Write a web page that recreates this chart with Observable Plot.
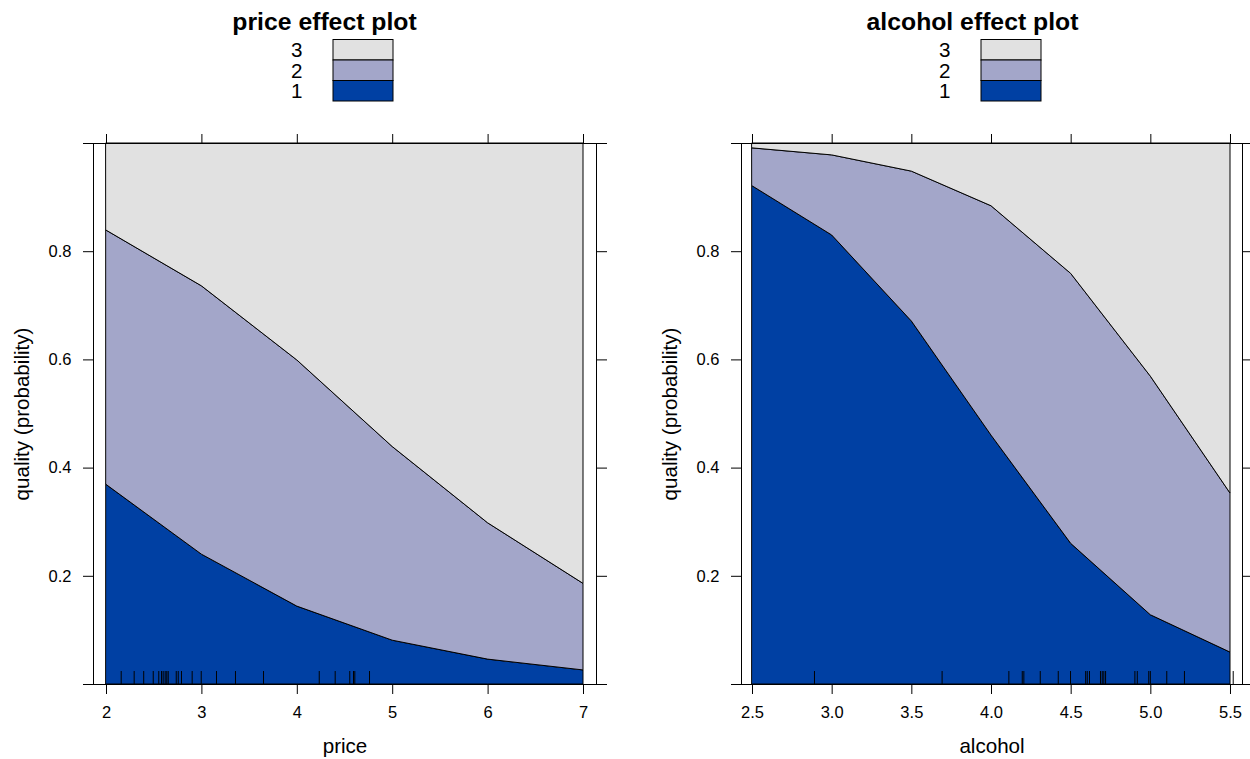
<!DOCTYPE html>
<html><head><meta charset="utf-8">
<script src="https://cdn.jsdelivr.net/npm/d3@7"></script>
<script src="https://cdn.jsdelivr.net/npm/@observablehq/plot@0.6"></script>
<style>
body{margin:0;background:#fff;}
#root{position:relative;width:1250px;height:759px;overflow:hidden;background:#fff;font-family:"Liberation Sans",Arial,sans-serif;}
.panel{position:absolute;top:0;height:759px;}
.panel svg{position:absolute;left:0;}
</style></head><body><div id="root"></div>
<script>
// ---- data ----
const categories = ["1", "2", "3"];
const colors = ["#0040A3", "#A3A6C9", "#E1E1E1"];

const price = [2, 3, 4, 5, 6, 7];
const priceCum1 = [0.369, 0.240, 0.144, 0.081, 0.046, 0.026];
const priceCum2 = [0.839, 0.736, 0.599, 0.439, 0.298, 0.186];
const priceRug = [2.154, 2.29, 2.39, 2.49, 2.548, 2.577, 2.594, 2.615, 2.632, 2.647, 2.731, 2.752, 2.786, 2.898, 2.993, 3.153, 3.352, 3.646, 4.23, 4.397, 4.55, 4.589, 4.603, 4.757];
const priceTicks = [2, 3, 4, 5, 6, 7];

const alcohol = [2.5, 3.0, 3.5, 4.0, 4.5, 5.0, 5.5];
const alcoholCum1 = [0.921, 0.830, 0.671, 0.460, 0.260, 0.128, 0.059];
const alcoholCum2 = [0.991, 0.978, 0.948, 0.884, 0.759, 0.569, 0.353];
const alcoholRug = [2.889, 3.69, 4.109, 4.193, 4.203, 4.306, 4.419, 4.496, 4.591, 4.601, 4.615, 4.684, 4.695, 4.705, 4.716, 4.9, 4.915, 4.987, 4.997, 5.1, 5.211, 5.517];
const alcoholTicks = [2.5, 3.0, 3.5, 4.0, 4.5, 5.0, 5.5];

const yTicks = [0, 0.2, 0.4, 0.6, 0.8, 1];
const yLabel = "quality (probability)";

const FONT = "'Liberation Sans', Arial, Helvetica, sans-serif";
const root = document.getElementById("root");

function makePanel({title, xLabel, xs, c1, c2, rug, xTicks, xFormat, xDomain, left, width, marginRight}) {
  const div = document.createElement("div");
  div.className = "panel";
  div.style.left = left + "px";
  div.style.width = width + "px";
  root.appendChild(div);

  // header: title + legend
  const head = d3.create("svg").attr("width", width).attr("height", 110)
    .style("top", "0px").style("font-family", FONT);
  head.append("text").attr("x", 324.5).attr("y", 30).attr("text-anchor", "middle")
    .attr("font-weight", "bold").attr("font-size", 24.75).attr("fill", "black").text(title);
  const order = categories.map((c, i) => i).reverse();
  order.forEach((ci, row) => {
    const y0 = 39.5 + row * 20.5;
    head.append("rect").attr("x", 333).attr("y", y0).attr("width", 60).attr("height", 20.5)
      .attr("fill", colors[ci]).attr("stroke", "black").attr("stroke-width", 1);
    head.append("text").attr("x", 302.5).attr("y", y0 + 10.25 + 7.6).attr("text-anchor", "end")
      .attr("font-size", 20.6).attr("fill", "black").text(categories[ci]);
  });
  div.appendChild(head.node());

  const rows = xs.map((x, i) => ({x, c1: c1[i], c2: c2[i]}));
  const fmtY = d3.format(".1f");
  const chart = Plot.plot({
    width, height: 649,
    marginLeft: 93, marginRight, marginTop: 33, marginBottom: 75,
    style: {fontFamily: FONT, fontSize: "16.5px", color: "black", background: "transparent", overflow: "visible"},
    x: {domain: xDomain},
    y: {domain: [0, 1]},
    marks: [
      Plot.areaY(rows, {x: "x", y1: 0, y2: "c1", fill: colors[0], stroke: "black", strokeWidth: 1}),
      Plot.areaY(rows, {x: "x", y1: "c1", y2: "c2", fill: colors[1], stroke: "black", strokeWidth: 1}),
      Plot.areaY(rows, {x: "x", y1: "c2", y2: 1, fill: colors[2], stroke: "black", strokeWidth: 1}),
      Plot.ruleX(rug, {x: d => d, y1: 0, y2: 0.024, stroke: "black", strokeWidth: 1}),
      Plot.frame({stroke: "black", strokeWidth: 1}),
      Plot.axisX({anchor: "bottom", ticks: xTicks, tickSize: 10, tickPadding: 12, tickFormat: xFormat, fontSize: 16.5, label: null}),
      Plot.axisX({anchor: "top", ticks: xTicks, tickSize: 10, tickFormat: () => "", label: null}),
      Plot.axisY({anchor: "left", ticks: yTicks, tickSize: 10, tickPadding: 12, tickFormat: d => (d > 0 && d < 1) ? fmtY(d) : "", fontSize: 16.5, label: null}),
      Plot.axisY({anchor: "right", ticks: yTicks, tickSize: 10, tickFormat: () => "", label: null}),
      Plot.text([xLabel], {text: d => d, frameAnchor: "bottom", textAnchor: "middle", lineAnchor: "middle", dy: 62.4, fontSize: 20.6}),
      Plot.text([yLabel], {text: d => d, frameAnchor: "left", textAnchor: "middle", lineAnchor: "middle", dx: -71.5, rotate: -90, fontSize: 20.6})
    ]
  });
  chart.style.top = "110px";
  chart.style.position = "absolute";
  div.appendChild(chart);
}

makePanel({
  title: "price effect plot", xLabel: "price",
  xs: price, c1: priceCum1, c2: priceCum2, rug: priceRug,
  xTicks: priceTicks, xFormat: d3.format("d"),
  xDomain: [2 - 13 / 95.4, 7 + 13 / 95.4],
  left: 0, width: 648, marginRight: 52
});

makePanel({
  title: "alcohol effect plot", xLabel: "alcohol",
  xs: alcohol, c1: alcoholCum1, c2: alcoholCum2, rug: alcoholRug,
  xTicks: alcoholTicks, xFormat: d3.format(".1f"),
  xDomain: [2.5 - 11 / 159.33, 5.5 + 12 / 159.33],
  left: 648, width: 602, marginRight: 8
});
</script>
</body></html>
